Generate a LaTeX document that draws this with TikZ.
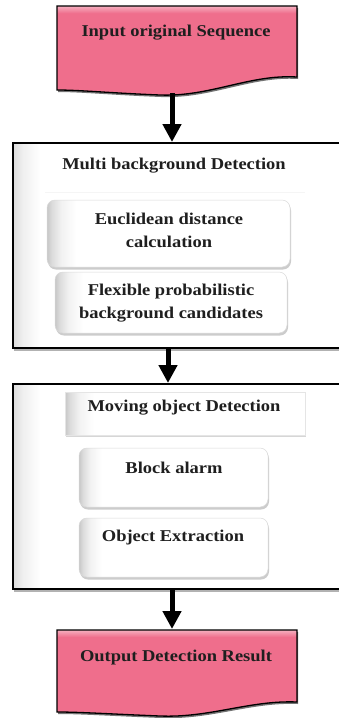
\documentclass[tikz,border=0pt]{standalone}
\usepackage{fontspec}
\setmainfont{Liberation Serif}[FakeStretch=1.12]
\usetikzlibrary{shadows,arrows.meta}
\definecolor{pinkc}{RGB}{239,110,140}
\pgfdeclarehorizontalshading{lbevel}{100bp}{color(0bp)=(black!22); color(25bp)=(black!22); color(26bp)=(black!14); color(28bp)=(black!5); color(31bp)=(white); color(100bp)=(white)}
\pgfdeclarehorizontalshading{bigbevel}{100bp}{color(0bp)=(black!14); color(25bp)=(black!14); color(26.5bp)=(black!6); color(29bp)=(white); color(100bp)=(white)}
\pgfdeclareverticalshading{pinkbevel}{100bp}{color(0bp)=(pinkc); color(71bp)=(pinkc); color(75bp)=(pinkc!55!white); color(100bp)=(pinkc!55!white)}
\begin{document}
\begin{tikzpicture}[x=1pt,y=-1pt,
  txt/.style={font=\fontsize{16.5}{23}\selectfont\bfseries, text=black!88, align=center, inner sep=0pt},
  docshape/.style={shading=pinkbevel, draw=black, line width=1.3pt,
    drop shadow={shadow xshift=1pt, shadow yshift=-2pt, fill=black, opacity=.55}},
  bigbox/.style={draw=black, line width=1.8pt, shading=bigbevel, inner sep=0pt,
    drop shadow={shadow xshift=1pt, shadow yshift=-3pt, fill=black!60, opacity=.5}},
  innerbox/.style={shading=lbevel, draw=black!15, line width=0.5pt, rounded corners=8pt,
    drop shadow={shadow xshift=1pt, shadow yshift=-2.5pt, fill=black!50, opacity=.4}},
  titlebox/.style={shading=lbevel, draw=black!10, line width=0.4pt,
    drop shadow={shadow xshift=1pt, shadow yshift=-2pt, fill=black!40, opacity=.4}},
  plainbox/.style={fill=white, draw=none,
    drop shadow={shadow xshift=0pt, shadow yshift=-1pt, fill=black!15, opacity=.25}},
  arr/.style={line width=5pt, -{Triangle[width=18pt,length=18pt]}}]
\useasboundingbox (0,0) rectangle (339,718);
\clip (0,0) rectangle (339,718);
\fill[white] (0,0) rectangle (339,718);

% top document shape
\path[docshape] (57,6) -- (297,6) -- (297,77) .. controls (250,74) and (210,97) .. (160,95)
  .. controls (110,93) and (80,90) .. (57,90) -- cycle;
\node[txt] (in) at (176,33) {Input original Sequence};
\coordinate (inb) at (172,93);

% first big box
\node[bigbox, minimum width=338pt, minimum height=205pt, anchor=north west] (mb) at (12,142) {};
\path[plainbox] (45,150) rectangle (305,192);
\node[txt] (mbt) at (174,166) {Multi background Detection};
\path[innerbox] (47,200) rectangle (290,267);
\node[txt] (eu) at (169,230) {Euclidean distance\\calculation};
\path[innerbox] (55,272) rectangle (287,333);
\node[txt] (fx) at (171,303) {Flexible probabilistic\\background candidates};

% second big box
\node[bigbox, minimum width=338pt, minimum height=205pt, anchor=north west] (mo) at (12,383) {};
\path[titlebox] (65,392) rectangle (305,435);
\node[txt] (mot) at (184,408) {Moving object Detection};
\path[innerbox] (79,448) rectangle (268,507);
\node[txt] (ba) at (174,468) {Block alarm};
\path[innerbox] (79,518) rectangle (268,577);
\node[txt] (oe) at (173,538) {Object Extraction};

% bottom document shape
\path[docshape] (57,630) -- (297,630) -- (297,702) .. controls (250,700) and (210,718) .. (160,716)
  .. controls (110,714) and (80,712) .. (57,712) -- cycle;
\node[txt] (out) at (176,658) {Output Detection Result};
\coordinate (outt) at (172,629);

% arrows
\coordinate (a2) at (168,0);
\coordinate (a3) at (172,0);
\draw[arr] (inb) -- (inb |- mb.north);
\draw[arr] (a2 |- mb.south) -- (a2 |- mo.north);
\draw[arr] (a3 |- mo.south) -- (outt);
\end{tikzpicture}
\end{document}
